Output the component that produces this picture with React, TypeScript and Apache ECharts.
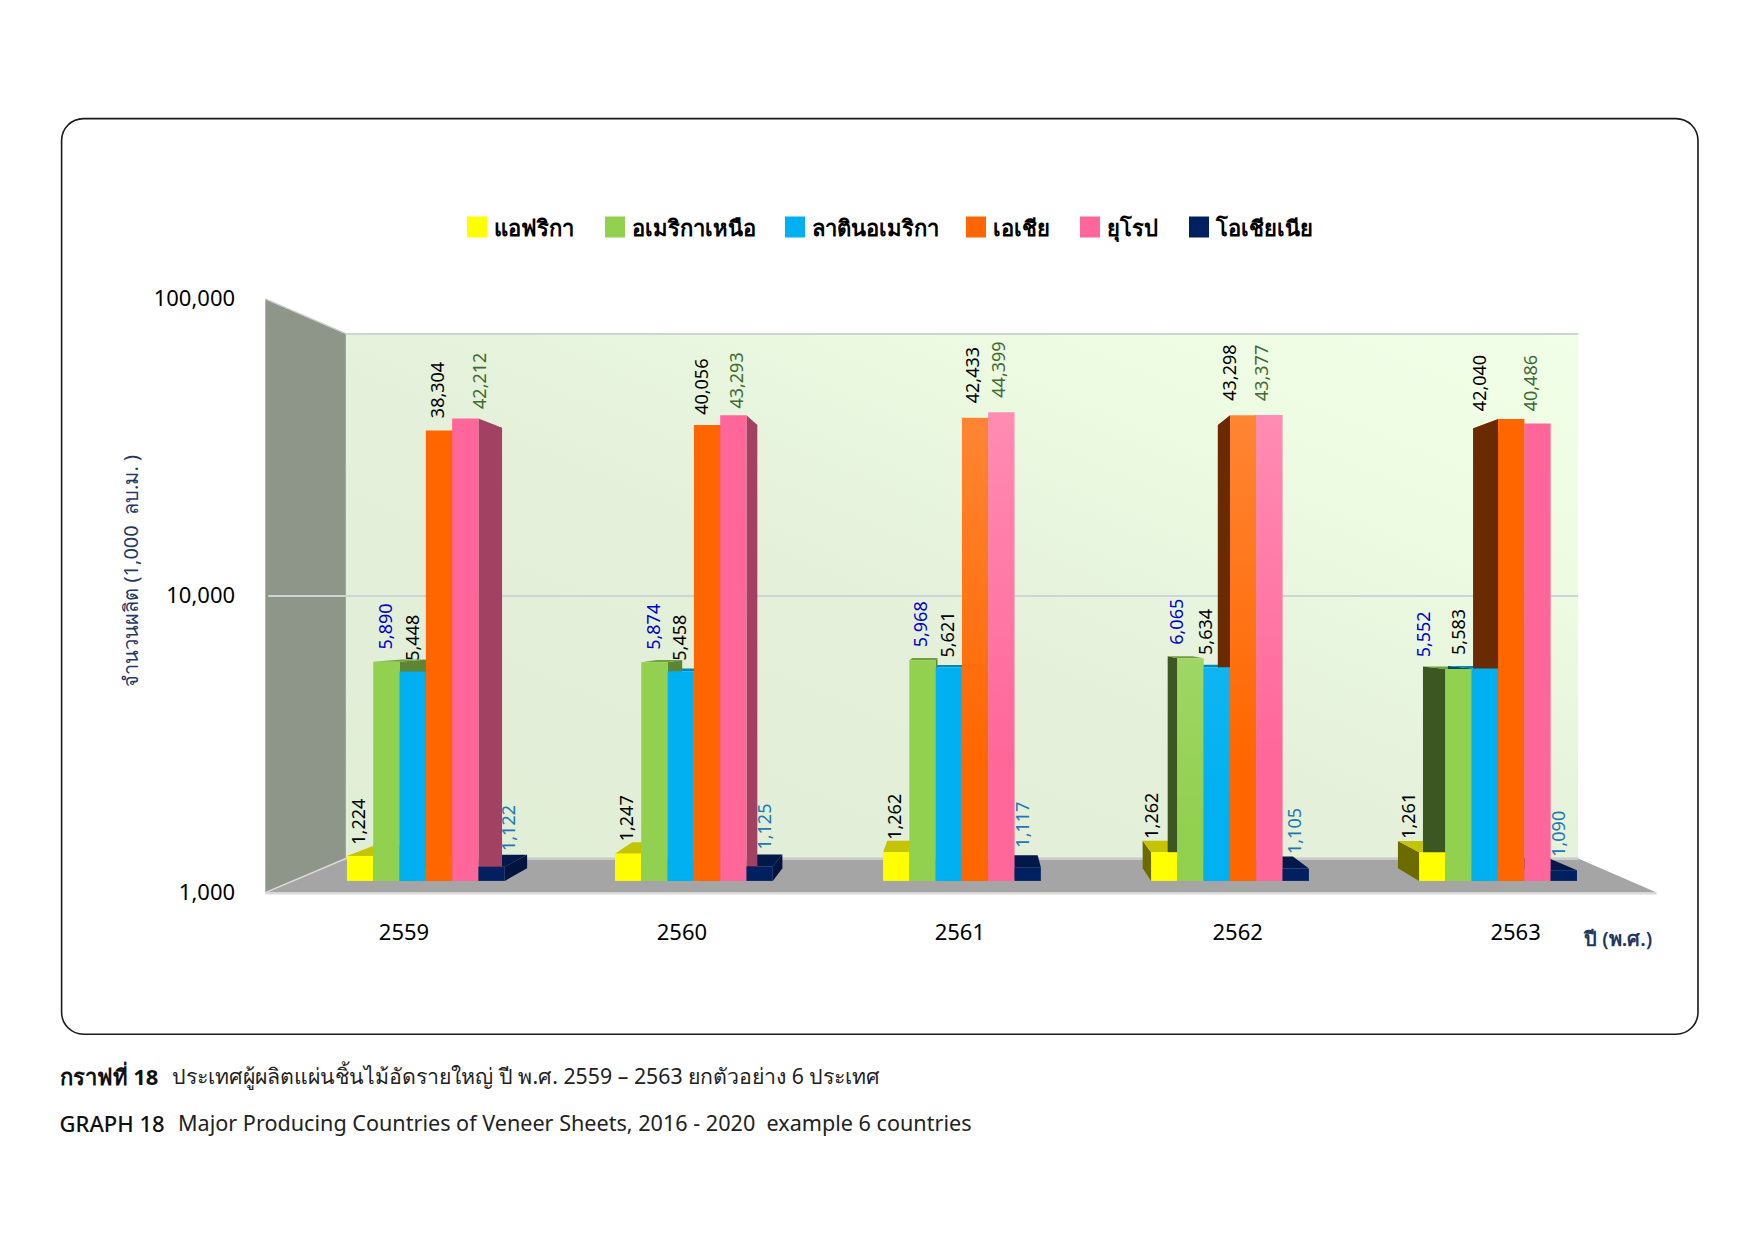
import React, { useEffect, useRef } from "react";
import * as echarts from "echarts";

const years = ["2559", "2560", "2561", "2562", "2563"];
const regions = ["แอฟริกา", "อเมริกาเหนือ", "ลาตินอเมริกา", "เอเชีย", "ยุโรป", "โอเชียเนีย"];
const africa = [1224, 1247, 1262, 1262, 1261];
const northAmerica = [5890, 5874, 5968, 6065, 5552];
const latinAmerica = [5448, 5458, 5621, 5634, 5583];
const asia = [38304, 40056, 42433, 43298, 42040];
const europe = [42212, 43293, 44399, 43377, 40486];
const oceania = [1122, 1125, 1117, 1105, 1090];
const allValues = [africa, northAmerica, latinAmerica, asia, europe, oceania];
const colors = ["#FFFF00", "#92D050", "#00B0F0", "#FF6600", "#FF6699", "#002060"];
const labelColors = ["#000000", "#0000CC", "#000000", "#000000", "#3F6B2F", "#1F78B4"];

const nudgeX = [
  [-2, -1.5, -2, -11.5, -22],
  [-1.5, -1, -2.5, -13, -31.5],
  [-1, -1.5, -2, -10.5, -24],
  [-1.5, -5, -2.5, -13, -28.5],
  [12, 2.5, -3, -7.5, -7],
  [14.5, 4, -5.5, -2, -5.5],
];
const nudgeY = [
  [-10, -11, -11, -12, -12],
  [-11, -11, -11.5, -12, -10.5],
  [-9.5, -9.4, -9, -11, -12],
  [-11, -9, -13, -13, -7],
  [-8.5, -6, -13, -12.5, -11],
  [-14, -15, -17.5, -13, -12],
];
const legendLeft = [462, 600, 780, 961, 1075, 1184];
const gradientStrength = [
  [0, 0, 0, 0, 0],
  [0, 0, 0, 0.12, 0],
  [0, 0, 0, 0.06, 0],
  [0, 0, 0.2, 0.2, 0],
  [0, 0, 0.25, 0.25, 0],
  [0, 0, 0, 0, 0],
];

const PX = 1.1193;
const BAR_W = 26.3;
const VP = { x: 973.8, y: 615.6, k: 0.0477 };
const FONT = "'Noto Sans', sans-serif";

const AX = { l: 265.1, w: 1389.4, t: 296.6, b: 891 };
const F = { l: 265.3, r: 1656.6, t: 298.9, b: 892.6 };
const W = { l: 345.9, r: 1578.2, t: 333.6, b: 858.5 };
const B = { l: 291.8, w: 1340.3, t: 311.9, b: 880.9 };

function shade(hex: string, f: number) {
  const n = parseInt(hex.slice(1), 16);
  const c = [(n >> 16) & 255, (n >> 8) & 255, n & 255].map((v) => Math.round(v * f));
  return `rgb(${c[0]},${c[1]},${c[2]})`;
}
function lighten(hex: string, f: number) {
  const n = parseInt(hex.slice(1), 16);
  const c = [(n >> 16) & 255, (n >> 8) & 255, n & 255].map((v) => Math.round(v + (255 - v) * f));
  return `rgb(${c[0]},${c[1]},${c[2]})`;
}
const back = (p: number[]) => [p[0] + VP.k * (VP.x - p[0]), p[1] + VP.k * (VP.y - p[1])];

function renderDepth(params: any, api: any) {
  const cat = api.value(0);
  const v = api.value(1);
  const s = api.value(2);
  const top = api.coord([cat, v]);
  const base = api.coord([cat, 1000]);
  const x0 = top[0] + (s - 3) * BAR_W;
  const x1 = x0 + BAR_W;
  const yt = top[1];
  const yb = base[1];
  const color = colors[s];
  const dist = Math.abs((x0 + x1) / 2 - VP.x);
  const z2 = Math.round(dist);
  const children: any[] = [];
  const poly = (pts: number[][], fill: string, z: number) =>
    children.push({ type: "polygon", z2: z, shape: { points: pts }, style: { fill } });
  if (x1 < VP.x) {
    poly([[x1, yt], [x1, yb], back([x1, yb]), back([x1, yt])], shade(color, 0.64), z2);
  }
  if (x0 > VP.x) {
    poly([[x0, yt], [x0, yb], back([x0, yb]), back([x0, yt])], shade(color, 0.42), z2);
  }
  if (yt > VP.y) {
    poly([[x0, yt], [x1, yt], back([x1, yt]), back([x0, yt])], shade(color, 0.77), z2 + 1);
  }
  return { type: "group", children };
}

export default function App() {
  const ref = useRef<HTMLDivElement>(null);
  useEffect(() => {
    document.body.style.margin = "0";
    const chart = echarts.init(ref.current!, null, { renderer: "svg" });
    const depthData: number[][] = [];
    allValues.forEach((vals, s) => vals.forEach((v, c) => depthData.push([c, v, s])));
    const fmt = (v: number) => Number(v).toLocaleString("en-US");
    const barSeries = regions.map((name, s) => ({
      type: "bar",
      name,
      xAxisIndex: 2,
      yAxisIndex: 2,
      z: 3,
      barWidth: BAR_W,
      barGap: 0,
      itemStyle: { color: colors[s] },
      data: allValues[s].map((v, c) => ({
        value: v,
        itemStyle:
          gradientStrength[s][c] > 0
            ? {
                color: new echarts.graphic.LinearGradient(0, 0, 0, 1, [
                  { offset: 0, color: lighten(colors[s], gradientStrength[s][c]) },
                  { offset: 0.75, color: colors[s] },
                  { offset: 1, color: colors[s] },
                ]),
              }
            : undefined,
      })),
      label: {
        show: true,
        position: "top",
        distance: 0,
        rotate: 90,
        align: "left",
        verticalAlign: "middle",
        fontFamily: FONT,
        fontSize: 18,
        color: labelColors[s],
        formatter: (p: any) => fmt(p.value),
      },
      // a rotated label's shift is applied in its own rotated frame
      labelLayout: (p: any) => ({ dx: -nudgeY[s][p.dataIndex] * PX, dy: nudgeX[s][p.dataIndex] * PX }),
    }));
    chart.setOption({
      animation: false,
      backgroundColor: "#ffffff",
      textStyle: { fontFamily: FONT },
      legend: regions.map((name, s) => ({
        data: [{ name, icon: "rect" }],
        left: legendLeft[s],
        top: 211,
        itemWidth: 20,
        itemHeight: 21,
        itemGap: 0,
        textStyle: { fontFamily: FONT, fontSize: 22, color: "#000", fontWeight: 600, padding: [0, 0, 0, 2] },
        selectedMode: false,
      })),
      grid: [
        { left: AX.l, top: AX.t, width: AX.w, height: AX.b - AX.t },
        {
          left: W.l,
          top: W.t,
          width: W.r - W.l,
          height: W.b - W.t,
          show: true,
          borderWidth: 0,
          backgroundColor: new echarts.graphic.LinearGradient(0, 1, 1, 0, [
            { offset: 0, color: "#E1EED6" },
            { offset: 0.45, color: "#E4F0DA" },
            { offset: 0.75, color: "#EDFBE3" },
            { offset: 1, color: "#F2FFE8" },
          ]),
        },
        { left: B.l, top: B.t, width: B.w, height: B.b - B.t },
      ],
      xAxis: [0, 1, 2].map((i) => ({
        type: "category",
        gridIndex: i,
        data: years,
        axisLine: { show: false },
        axisTick: { show: false },
        axisLabel:
          i === 0
            ? { show: true, margin: 29, fontFamily: FONT, fontSize: 22, color: "#000" }
            : { show: false },
      })),
      yAxis: [0, 1, 2].map((i) => ({
        type: "log",
        logBase: 10,
        min: 1000,
        max: 100000,
        gridIndex: i,
        axisLine: { show: false },
        axisTick: { show: false },
        splitLine:
          i === 1 ? { show: true, lineStyle: { color: "#CFD5D6", width: 2 } } : { show: false },
        minorSplitLine: { show: false },
        axisLabel:
          i === 0
            ? { show: true, margin: 30, fontFamily: FONT, fontSize: 22, color: "#000", formatter: fmt }
            : { show: false },
        name: i === 0 ? "จำนวนผลิต (1,000  ลบ.ม. )" : "",
        nameLocation: "middle",
        nameGap: 125,
        nameRotate: 90,
        nameTextStyle: { fontFamily: FONT, fontSize: 20, color: "#1F3864", padding: [0, 0, 0, 46] },
      })),
      series: [
        { type: "line", name: "front", xAxisIndex: 0, yAxisIndex: 0, data: [], silent: true },
        { type: "line", name: "wall", xAxisIndex: 1, yAxisIndex: 1, data: [], silent: true },
        {
          type: "custom",
          name: "depth",
          xAxisIndex: 2,
          yAxisIndex: 2,
          z: 2,
          silent: true,
          clip: false,
          renderItem: renderDepth,
          encode: { x: 0, y: 1 },
          data: depthData,
        },
        ...barSeries,
      ],
      graphic: [
        {
          type: "rect",
          z: -10,
          shape: { x: 61.6, y: 118.6, width: 1636.4, height: 915.6, r: 22 },
          style: { fill: "#fff", stroke: "#1a1a1a", lineWidth: 1.6 },
        },
        {
          type: "polygon",
          z: -5,
          shape: { points: [[F.l, F.t], [W.l, W.t], [W.l, W.b], [F.l, F.b]] },
          style: { fill: "#8E9689" },
        },
        {
          type: "polygon",
          z: -5,
          shape: { points: [[F.l, F.b], [W.l, W.b], [W.r, W.b], [F.r, F.b]] },
          style: { fill: "#A5A5A5" },
        },
        { type: "line", z: 1, shape: { x1: F.l + 3, y1: (W.t + W.b) / 2, x2: W.l, y2: (W.t + W.b) / 2 }, style: { stroke: "#CFD5D6", lineWidth: 2 } },
        { type: "line", z: 1, shape: { x1: F.l, y1: F.t, x2: W.l, y2: W.t }, style: { stroke: "#CFCFCF", lineWidth: 1.5 } },
        { type: "line", z: 1, shape: { x1: F.l, y1: F.b, x2: W.l, y2: W.b }, style: { stroke: "#DADADA", lineWidth: 1.5 } },
        { type: "line", z: 1, shape: { x1: W.l, y1: W.b, x2: W.r, y2: W.b }, style: { stroke: "#C8C8C8", lineWidth: 2 } },
        { type: "line", z: 1, shape: { x1: F.l, y1: F.b + 1, x2: F.r, y2: F.b + 1 }, style: { stroke: "#D9D9D9", lineWidth: 2 } },
        {
          type: "text",
          x: 1584,
          y: 938,
          style: { text: "ปี (พ.ศ.)", fontFamily: FONT, fontSize: 20, fill: "#1F3864", fontWeight: 600, verticalAlign: "middle" },
        },
        {
          type: "text",
          x: 59.5,
          y: 1075.5,
          style: { text: "กราฟที่ 18", fontFamily: FONT, fontSize: 22, fontWeight: 700, fill: "#111", verticalAlign: "middle" },
        },
        {
          type: "text",
          x: 172.4,
          y: 1075.5,
          style: { text: "ประเทศผู้ผลิตแผ่นชิ้นไม้อัดรายใหญ่ ปี พ.ศ. 2559 – 2563 ยกตัวอย่าง 6 ประเทศ", fontFamily: FONT, fontSize: 21.3, fill: "#222", verticalAlign: "middle" },
        },
        {
          type: "text",
          x: 59.5,
          y: 1122.5,
          style: { text: "GRAPH 18", fontFamily: FONT, fontSize: 22, fontWeight: 500, fill: "#111", verticalAlign: "middle" },
        },
        {
          type: "text",
          x: 178,
          y: 1122.5,
          style: { text: "Major Producing Countries of Veneer Sheets, 2016 - 2020  example 6 countries", fontFamily: FONT, fontSize: 21.6, fill: "#222", verticalAlign: "middle" },
        },
      ],
    });
    return () => chart.dispose();
  }, []);
  return <div ref={ref} style={{ position: "absolute", left: 0, top: 0, width: 1755, height: 1241 }} />;
}
